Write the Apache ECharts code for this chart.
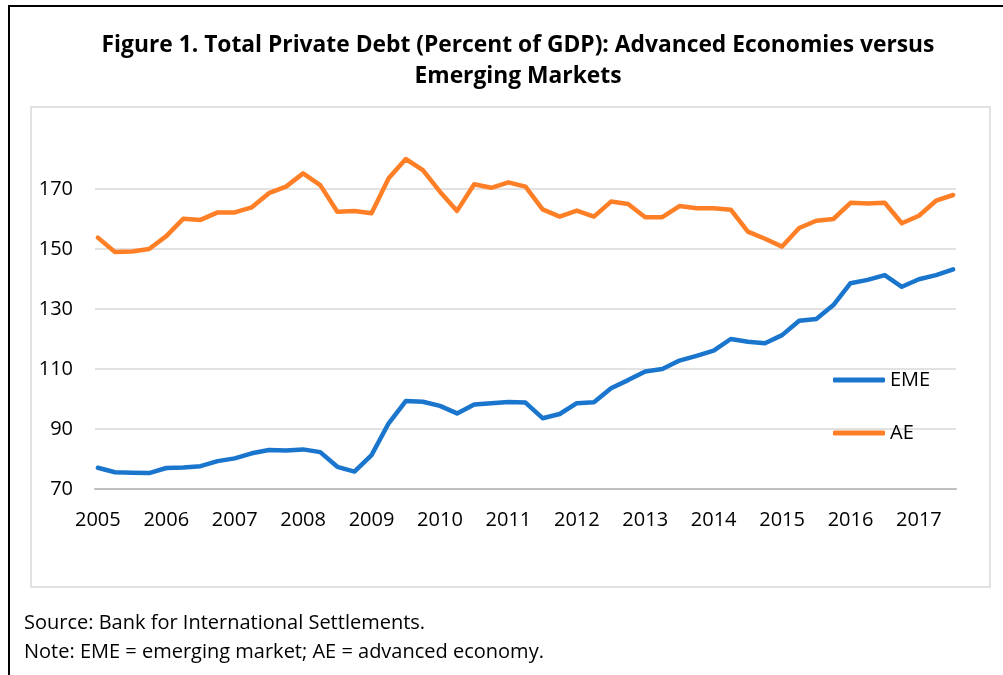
<html>
<head>
    <meta charset="utf-8">
    <title>Total Private Debt</title>
    <script src="https://cdn.jsdelivr.net/npm/echarts@6.0.0/dist/echarts.min.js"></script>
    <style>
        body { margin: 0; background: #fff; }
        #chartmain { width: 1003px; height: 675px; }
    </style>
</head>
<body>
    <div id="chartmain"></div>

    <script type="text/javascript">
        // quarterly values, 2005Q1 .. 2017Q3
        var eme = [77.1, 75.6, 75.4, 75.3, 77.0, 77.2, 77.6, 79.3, 80.2, 81.9, 83.0, 82.8,
            83.2, 82.3, 77.4, 75.8, 81.3, 91.9, 99.3, 99.1, 97.7, 95.2, 98.2, 98.6,
            99.0, 98.8, 93.6, 95.0, 98.6, 98.9, 103.6, 106.3, 109.2, 110.0, 112.8, 114.4,
            116.1, 120.0, 119.1, 118.6, 121.3, 126.1, 126.7, 131.3, 138.6, 139.7, 141.3, 137.4,
            139.9, 141.3, 143.2];
        var ae = [153.8, 149.0, 149.2, 150.0, 154.3, 160.1, 159.7, 162.2, 162.2, 163.9, 168.6, 170.8,
            175.2, 171.3, 162.4, 162.7, 161.9, 173.6, 180.0, 176.3, 169.1, 162.7, 171.6, 170.4,
            172.2, 170.8, 163.2, 160.8, 162.8, 160.8, 165.8, 165.0, 160.6, 160.6, 164.3, 163.6,
            163.6, 163.1, 155.8, 153.4, 150.8, 157.0, 159.4, 160.0, 165.4, 165.2, 165.4, 158.6,
            161.1, 166.1, 168.0];
        var seriesNames = ['EME', 'AE'];
        var firstYear = 2005;
        var lastYear = 2017;
        var lastMonth = 7; // axis runs to Jul 2017

        // monthly categories (date axis in the original), data sits on every 3rd month
        var months = [];
        for (var y = firstYear; y <= lastYear; y++) {
            for (var m = 1; m <= 12; m++) {
                if (y === lastYear && m > lastMonth) break;
                months.push(y + '-' + (m < 10 ? '0' + m : m));
            }
        }
        function toPoints(vals) {
            return vals.map(function (v, i) { return [i * 3, v]; });
        }

        var font = "'Open Sans', 'Noto Sans', sans-serif";
        var myChart = echarts.init(document.getElementById('chartmain'));
        myChart.setOption({
            animation: false,
            backgroundColor: '#fff',
            title: {
                text: 'Figure 1. Total Private Debt (Percent of GDP): Advanced Economies versus\nEmerging Markets',
                left: 513,
                top: 25,
                textAlign: 'center',
                textStyle: {
                    fontFamily: font,
                    fontSize: 22.8,
                    fontWeight: 'bold',
                    lineHeight: 31,
                    color: '#000'
                }
            },
            legend: {
                orient: 'vertical',
                left: 828,
                top: 365,
                icon: 'roundRect',
                itemWidth: 52,
                itemHeight: 5,
                itemGap: 33,
                data: seriesNames,
                textStyle: { fontFamily: font, fontSize: 20, color: '#000', lineHeight: 20 }
            },
            grid: { left: 95, right: 47, top: 144, bottom: 186 },
            xAxis: {
                type: 'category',
                data: months,
                boundaryGap: true,
                axisLine: { lineStyle: { color: '#bfbfbf', width: 2 } },
                axisTick: { show: false },
                axisLabel: {
                    interval: 11,
                    margin: 21,
                    fontFamily: font,
                    fontSize: 20,
                    color: '#000',
                    formatter: function (v) { return v.slice(0, 4); }
                },
                splitLine: { show: false }
            },
            yAxis: {
                type: 'value',
                min: 70,
                max: 185,
                interval: 20,
                axisLine: { show: false },
                axisTick: { show: false },
                axisLabel: {
                    margin: 22,
                    showMaxLabel: false,
                    fontFamily: font,
                    fontSize: 20,
                    color: '#000'
                },
                splitLine: { showMaxLine: false, lineStyle: { color: '#d9d9d9', width: 1.5 } }
            },
            series: [
                {
                    name: 'EME',
                    type: 'line',
                    data: toPoints(eme),
                    symbol: 'none',
                    color: '#1a75cd',
                    lineStyle: { width: 4.5, cap: 'round', join: 'round' }
                },
                {
                    name: 'AE',
                    type: 'line',
                    data: toPoints(ae),
                    symbol: 'none',
                    color: '#ff7f27',
                    lineStyle: { width: 4.5, cap: 'round', join: 'round' }
                }
            ],
            graphic: [
                // outer frame (left and top only)
                { type: 'line', shape: { x1: 9, y1: 5, x2: 9, y2: 675 }, style: { stroke: '#000', lineWidth: 2 } },
                { type: 'line', shape: { x1: 8, y1: 6, x2: 1003, y2: 6 }, style: { stroke: '#000', lineWidth: 2 } },
                // chart area box
                { type: 'rect', shape: { x: 31, y: 107, width: 959, height: 480 }, z: -1,
                  style: { fill: 'none', stroke: '#d9d9d9', lineWidth: 1.5 } },
                { type: 'text', left: 24, top: 613,
                  style: { text: 'Source: Bank for International Settlements.', font: '20px ' + font, fill: '#000' } },
                { type: 'text', left: 24, top: 642,
                  style: { text: 'Note: EME = emerging market; AE = advanced economy.', font: '20px ' + font, fill: '#000' } }
            ]
        });
    </script>
</body>
</html>
